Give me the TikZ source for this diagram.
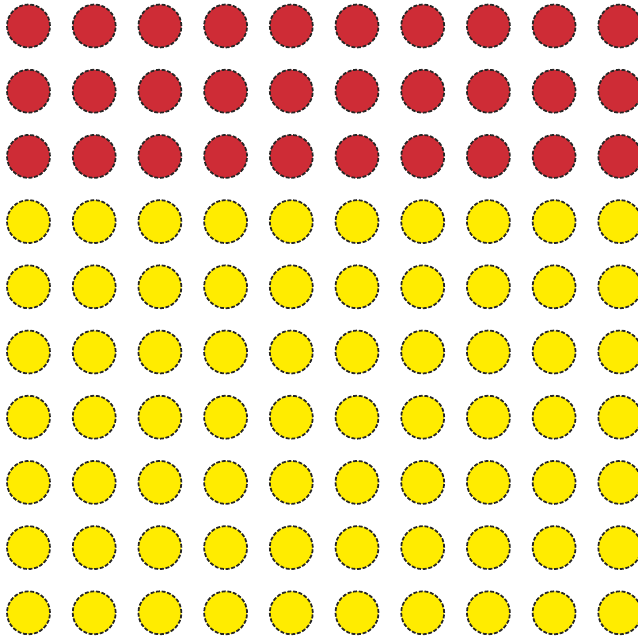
\documentclass[tikz,border=0pt]{standalone}
\usepackage{tikz}
\definecolor{dotred}{RGB}{206,44,54}
\definecolor{dotyellow}{RGB}{255,236,0}

\begin{document}
\begin{tikzpicture}[x=0.1cm, y=-0.1cm,
   dot/.style={circle, draw=black!85, line width=5pt, dash pattern=on 11pt off 5pt, inner sep=0pt, minimum size=4.3cm},
   dotr/.style={dot, fill=dotred},
   doty/.style={dot, fill=dotyellow}
]
\useasboundingbox[fill=white] (0,0) rectangle (638,637);
% Red rows
\foreach \row in {0,1,2}
  \foreach \col in {0,...,9}
    \node [dotr] (dot-\row-\col) at ({28.5+65.7*\col},{26+65.2*\row}) {};
% Yellow rows
\foreach \row in {3,...,9}
  \foreach \col in {0,...,9}
    \node [doty] (dot-\row-\col) at ({28.5+65.7*\col},{26+65.2*\row}) {};
\end{tikzpicture}
\end{document}
